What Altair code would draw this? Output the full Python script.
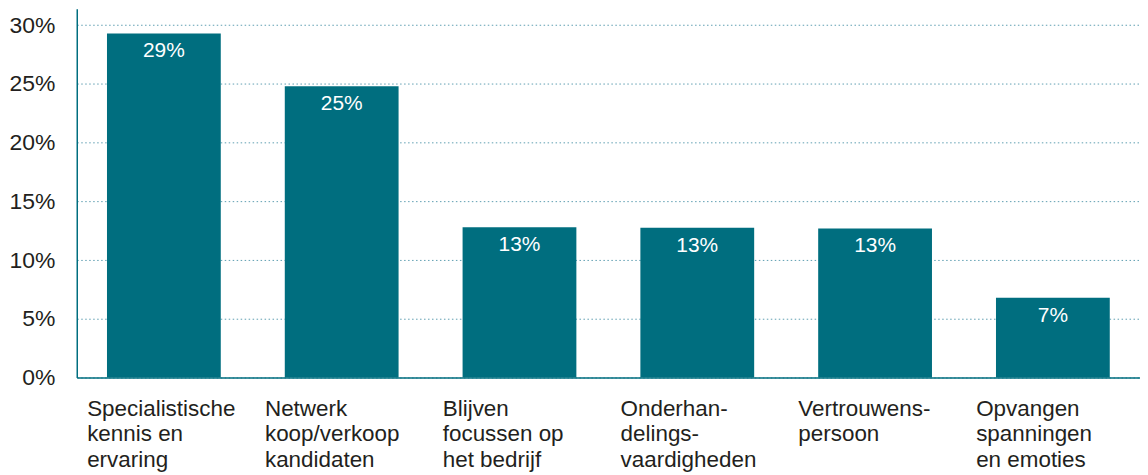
import altair as alt
import pandas as pd

categories = [
    "Specialistische\nkennis en\nervaring",
    "Netwerk\nkoop/verkoop\nkandidaten",
    "Blijven\nfocussen op\nhet bedrijf",
    "Onderhan-\ndelings-\nvaardigheden",
    "Vertrouwens-\npersoon",
    "Opvangen\nspanningen\nen emoties",
]
values = [29.3, 24.8, 12.8, 12.75, 12.7, 6.8]
labels = ["29%", "25%", "13%", "13%", "13%", "7%"]
y_ticks = [0, 5, 10, 15, 20, 25, 30]

df = pd.DataFrame({"cat": categories, "val": values, "lab": labels})

TEAL = "#006E7F"
FONT = "Liberation Sans"

x = alt.X(
    "cat:N",
    sort=None,
    title=None,
    scale=alt.Scale(paddingInner=0.36, paddingOuter=0.17),
    axis=alt.Axis(
        labelAngle=0,
        labelAlign="left",
        labelBaseline="top",
        labelOffset=-77,
        labelPadding=20,
        labelFontSize=22.5,
        labelFont=FONT,
        labelColor="#231f20",
        labelLineHeight=25.5,
        labelExpr="split(datum.label, '\\n')",
        ticks=False,
        domainColor=TEAL,
        domainWidth=1.5,
        labelLimit=300,
    ),
)
y = alt.Y(
    "val:Q",
    title=None,
    scale=alt.Scale(domain=[0, 31.4], nice=False, zero=True),
    axis=alt.Axis(
        values=y_ticks,
        labelExpr="datum.value + '%'",
        labelFontSize=23,
        labelFont=FONT,
        labelColor="#231f20",
        labelPadding=22,
        ticks=False,
        domainColor=TEAL,
        domainWidth=1.5,
        grid=True,
        gridColor="#5f9fb2",
        gridDash=[1.5, 2.5],
        gridWidth=1,
    ),
)

bars = alt.Chart(df).mark_bar(color=TEAL).encode(x=x, y=y)
text = alt.Chart(df).mark_text(
    color="white",
    font="Liberation Sans Narrow, Liberation Sans, sans-serif",
    fontSize=21,
    baseline="alphabetic",
    dy=24,
).encode(x=alt.X("cat:N", sort=None), y="val:Q", text="lab:N")

chart = (
    alt.layer(bars, text)
    .properties(
        width=1067,
        height=370,
        padding={"left": 0, "top": 0, "right": 0, "bottom": 0},
        background="white",
    )
    .configure_view(stroke=None)
)

chart.save("out.html", embed_options={"renderer": "svg", "actions": False})
